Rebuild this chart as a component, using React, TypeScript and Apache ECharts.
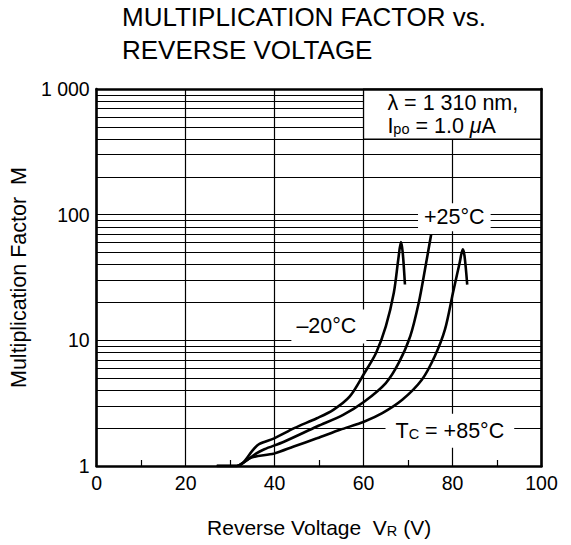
import React, { useEffect, useRef } from "react";
import * as echarts from "echarts";

const FONT = "'Liberation Sans', Arial, Helvetica, sans-serif";

const titleLines = ["MULTIPLICATION FACTOR vs.", "REVERSE VOLTAGE"];
const xTicks = [0, 20, 40, 60, 80, 100];
const yDecades = [1, 10, 100, 1000];
const yMinorMultipliers = [2, 3, 4, 5, 6, 7, 8, 9];

// -20 °C
const minus20V = [27.0, 31.5, 32.9, 35.1, 36.6, 39.9, 44.4, 49.5, 53.2, 56.9, 60.2, 62.8, 65.0, 66.8, 67.8, 68.4, 68.8, 69.3];
const minus20M = [1, 1, 1.06, 1.34, 1.5, 1.66, 2.0, 2.4, 2.8, 3.58, 5.5, 7.93, 12.9, 23.9, 44, 60.6, 49.9, 27.8];
// +25 °C
const plus25V = [27.0, 31.5, 32.9, 35.9, 37.7, 42.1, 49.5, 55.4, 60.2, 65.0, 67.9, 70.5, 72.4, 73.8, 75.2];
const plus25M = [1, 1, 1.06, 1.26, 1.36, 1.56, 2.06, 2.55, 3.26, 4.57, 6.61, 10.8, 19.9, 36.6, 69.8];
// +85 °C
const plus85V = [27.0, 31.5, 32.9, 34.8, 39.9, 44.3, 49.5, 54.7, 60.2, 64.2, 68.7, 73.1, 76.0, 78.3, 80.1, 81.6, 82.3, 82.7, 83.3];
const plus85M = [1, 1, 1.06, 1.17, 1.26, 1.43, 1.66, 1.94, 2.26, 2.63, 3.36, 4.85, 7.46, 12.2, 23.9, 41.4, 52.9, 46.8, 27.8];

const zip = (xs: number[], ys: number[]) => xs.map((x, i) => [x, ys[i]]);

export default function App() {
  const ref = useRef<HTMLDivElement>(null);
  useEffect(() => {
    if (!ref.current) return;
    const chart = echarts.init(ref.current, undefined, { renderer: "svg" });
    const minorValues: number[] = [];
    yDecades.slice(0, 3).forEach((d) => yMinorMultipliers.forEach((m) => minorValues.push(d * m)));

    const black = "#000";
    const curve = (name: string, data: number[][]) => ({
      name,
      type: "line",
      data,
      showSymbol: false,
      symbol: "none",
      smooth: 0.3,
      z: 4,
      lineStyle: { color: black, width: 2.6 },
      silent: true,
    });

    const option: any = {
      animation: false,
      backgroundColor: "#fff",
      textStyle: { fontFamily: FONT, color: black },
      title: {
        text: titleLines.join("\n"),
        left: 122,
        top: 1,
        padding: 0,
        textStyle: { fontFamily: FONT, fontSize: 26, fontWeight: "normal", color: black, lineHeight: 32.6 },
      },
      grid: { left: 89.5, right: 29.5, top: 89, bottom: 79, containLabel: false },
      xAxis: [
        {
          type: "value",
          min: xTicks[0],
          max: xTicks[xTicks.length - 1],
          interval: 20,
          axisLine: { show: true, lineStyle: { color: black, width: 2.6 } },
          axisTick: { show: false, inside: true },
          minorTick: { show: true, splitNumber: 2, length: 6, lineStyle: { color: black, width: 1.2 } },
          axisLabel: { color: black, fontSize: 19.5, fontFamily: FONT, margin: 7 },
          splitLine: { show: true, lineStyle: { color: black, width: 1.2 } },
          name: "Reverse Voltage  V{s|R} (V)",
          nameLocation: "middle",
          nameGap: 51,
          nameTextStyle: {
            color: black,
            fontSize: 21,
            fontFamily: FONT,
            rich: { s: { fontSize: 14.5, fontFamily: FONT, color: black, verticalAlign: "bottom" } },
          },
          z: 0,
        },
        {
          type: "value",
          position: "top",
          min: 0,
          max: 100,
          interval: 20,
          axisLine: { show: true, onZero: false, lineStyle: { color: black, width: 2.6 } },
          axisTick: { show: false },
          axisLabel: { show: false },
          splitLine: { show: false },
          z: 10,
        },
      ],
      yAxis: [
        {
          type: "log",
          logBase: 10,
          min: 1,
          max: 1000,
          axisLine: { show: true, lineStyle: { color: black, width: 2.6 } },
          axisTick: { show: false },
          axisLabel: {
            color: black,
            fontSize: 19.5,
            fontFamily: FONT,
            margin: 7,
            formatter: (v: number) => (v === 1000 ? "1 000" : String(v)),
          },
          splitLine: { show: true, lineStyle: { color: black, width: 1.2 } },
          name: "Multiplication Factor  M",
          nameLocation: "middle",
          nameGap: 52,
          nameRotate: 90,
          nameTextStyle: { color: black, fontSize: 21.5, fontFamily: FONT },
          z: 0,
        },
        {
          type: "log",
          logBase: 10,
          min: 1,
          max: 1000,
          position: "right",
          axisLine: { show: true, onZero: false, lineStyle: { color: black, width: 2.6 } },
          axisTick: { show: false },
          axisLabel: { show: false },
          splitLine: { show: false },
          z: 10,
        },
      ],
      series: [
        {
          name: "minorGrid",
          type: "line",
          data: [],
          z: 1,
          silent: true,
          markLine: {
            silent: true,
            z: 1,
            symbol: ["none", "none"],
            label: { show: false },
            lineStyle: { color: black, width: 1.2, type: "solid" },
            data: minorValues.map((v) => ({ yAxis: v })),
          },
        },
        {
          name: "boxes",
          type: "line",
          data: [],
          z: 3,
          silent: true,
          markArea: {
            silent: true,
            z: 3,
            itemStyle: { color: "#fff", borderColor: black, borderWidth: 1.2 },
            label: { show: false },
            data: [[{ coord: [60, 400] }, { coord: [100, 1000] }]],
          },
        },
        curve("-20", zip(minus20V, minus20M)),
        curve("+25", zip(plus25V, plus25M)),
        curve("+85", zip(plus85V, plus85M)),
        {
          name: "labels",
          type: "line",
          data: [],
          z: 7,
          silent: true,
          markPoint: {
            silent: true,
            z: 7,
            symbol: "rect",
            symbolSize: 0,
            data: [
              {
                coord: [65.35, 629],
                label: {
                  show: true,
                  position: "inside",
                  align: "left",
                  verticalAlign: "middle",
                  formatter: "{n|λ = 1 310 nm,}\n{n|I}{s|po}{n| = 1.0 }{i|μ}{n|A}",
                  rich: {
                    n: { fontSize: 21.5, fontFamily: FONT, color: black, lineHeight: 22.7 },
                    s: { fontSize: 14.5, fontFamily: FONT, color: black, lineHeight: 22.7, verticalAlign: "bottom" },
                    i: { fontSize: 21.5, fontFamily: FONT, color: black, fontStyle: "italic", lineHeight: 22.7 },
                  },
                },
              },
              {
                coord: [80.4, 95.3],
                label: {
                  show: true,
                  position: "inside",
                  formatter: "+25°C",
                  fontSize: 21.5,
                  fontFamily: FONT,
                  color: black,
                  backgroundColor: "#fff",
                  padding: [3, 6, 3, 6],
                },
              },
              {
                coord: [52.2, 12.9],
                label: {
                  show: true,
                  position: "inside",
                  formatter: "–20°C",
                  fontSize: 21.5,
                  fontFamily: FONT,
                  color: black,
                  backgroundColor: "#fff",
                  padding: [6, 10, 6, 5],
                },
              },
              {
                coord: [79.4, 1.91],
                label: {
                  show: true,
                  position: "inside",
                  formatter: "{n|T}{s|C}{n| = +85°C}",
                  backgroundColor: "#fff",
                  padding: [6, 10, 6, 10],
                  rich: {
                    n: { fontSize: 21.5, fontFamily: FONT, color: black },
                    s: { fontSize: 14.5, fontFamily: FONT, color: black, verticalAlign: "bottom" },
                  },
                },
              },
            ],
          },
        },
      ],
    };
    chart.setOption(option);
    return () => chart.dispose();
  }, []);
  return (
    <div
      ref={ref}
      style={{ position: "absolute", left: 0, top: 0, width: 571, height: 545, background: "#fff" }}
    />
  );
}
